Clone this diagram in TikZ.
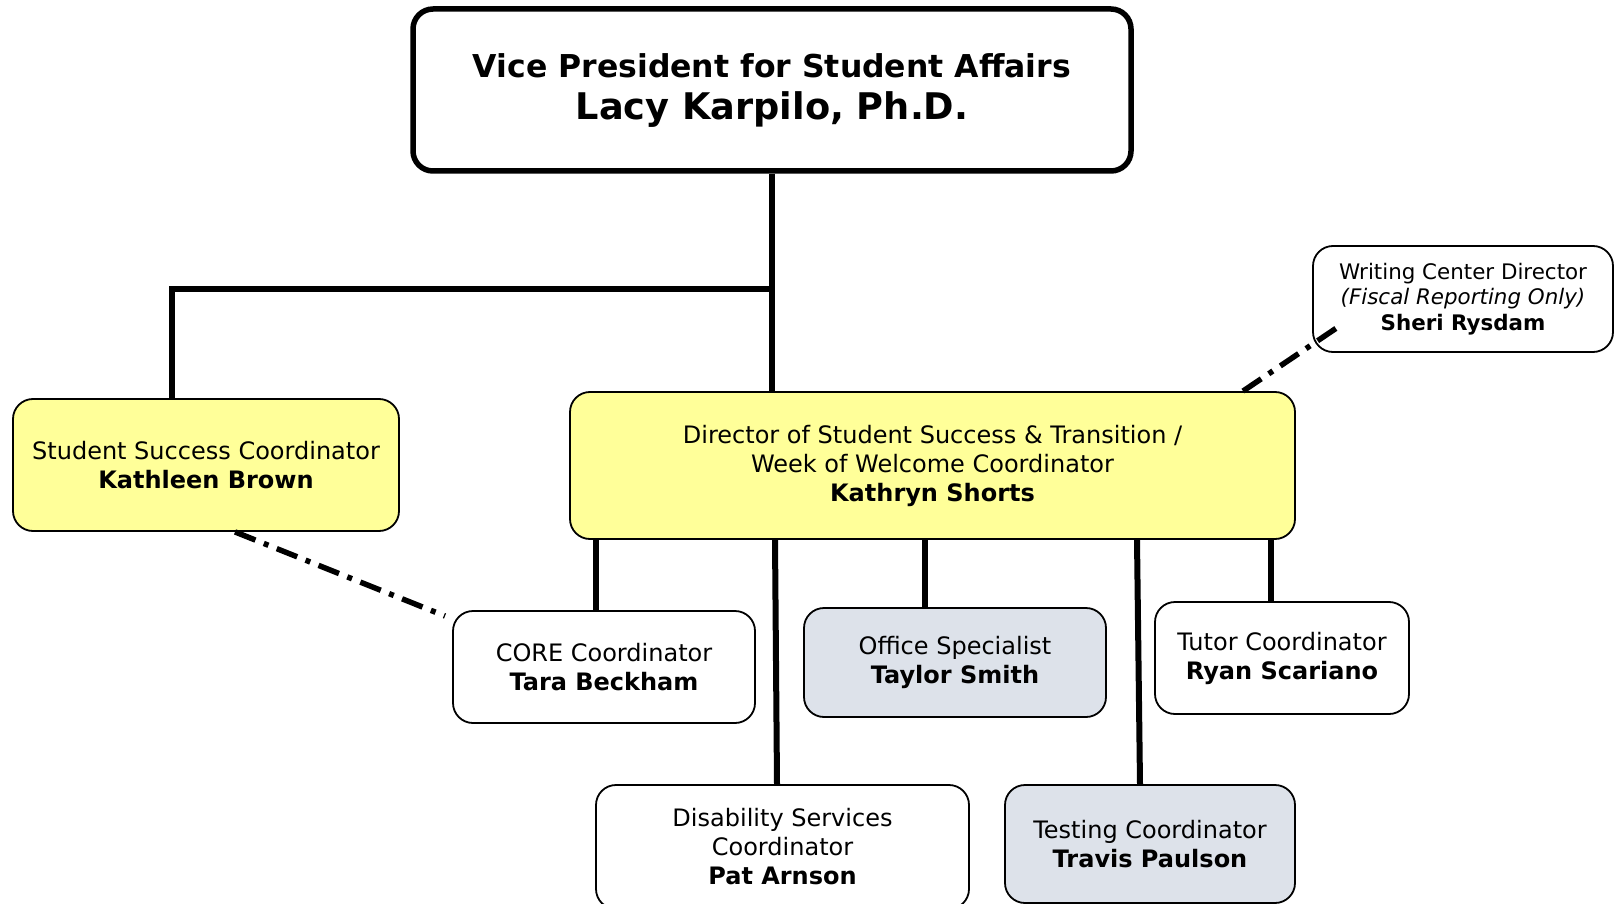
\documentclass[tikz,border=0pt]{standalone}
\usepackage{fontspec}
\setmainfont{DejaVu Sans}
\begin{document}
\begin{tikzpicture}[x=1pt,y=-1pt,
  box/.style={draw=black, line width=1.8pt, rounded corners=20pt, align=center, inner sep=0pt,
    font=\fontsize{24}{29}\selectfont},
  yellowbox/.style={box, fill=ssyellow},
  graybox/.style={box, fill=ssgray},
  conn/.style={line width=6pt},
  dotline/.style={line width=5.5pt, dash pattern=on 22pt off 9pt on 5pt off 9pt}
]
\definecolor{ssyellow}{RGB}{255,255,153}
\definecolor{ssgray}{RGB}{221,226,234}
\useasboundingbox (0,0) rectangle (1614,904);

\node[box, line width=5.5pt, minimum width=718pt, minimum height=162pt, fill=white,
  font=\fontsize{31.5}{42}\selectfont\bfseries] (vp) at (772,90)
  {Vice President for Student Affairs\\{\fontsize{36.7}{42}\selectfont Lacy Karpilo, Ph.D.}};

\node[yellowbox, minimum width=386pt, minimum height=132pt] (ss) at (206,465)
  {Student Success Coordinator\\\textbf{Kathleen Brown}};

\node[yellowbox, minimum width=725pt, minimum height=147pt] (dir) at (932.5,465.5)
  {Director of Student Success \& Transition /\\Week of Welcome Coordinator\\\textbf{Kathryn Shorts}};

\node[box, minimum width=300pt, minimum height=106pt, font=\fontsize{21.4}{25.5}\selectfont] (wc) at (1463,299)
  {Writing Center Director\\\textit{(Fiscal Reporting Only)}\\\textbf{Sheri Rysdam}};

\node[box, minimum width=302pt, minimum height=112pt] (core) at (604,667)
  {CORE Coordinator\\\textbf{Tara Beckham}};

\node[graybox, minimum width=302pt, minimum height=109pt] (office) at (955,662.5)
  {Office Specialist\\\textbf{Taylor Smith}};

\node[box, minimum width=254pt, minimum height=112pt] (tutor) at (1282,658)
  {Tutor Coordinator\\\textbf{Ryan Scariano}};

\node[box, minimum width=373pt, minimum height=124pt] (dis) at (782.5,847)
  {Disability Services\\Coordinator\\\textbf{Pat Arnson}};

\node[graybox, minimum width=290pt, minimum height=118pt] (test) at (1150,844)
  {Testing Coordinator\\\textbf{Travis Paulson}};

% solid connectors
\coordinate (j) at (772,289);
\draw[conn] (vp.south) -- (vp.south |- dir.north);
\draw[conn] (j) -| ([xshift=-34pt]ss.north);
\draw[conn] ([xshift=-336.5pt]dir.south) -- ([xshift=-336.5pt]dir.south |- core.north);
\draw[conn] ([xshift=-157.5pt]dir.south) -- ([xshift=-5.5pt]dis.north);
\draw[conn] ([xshift=-7.5pt]dir.south) -- ([xshift=-7.5pt]dir.south |- office.north);
\draw[conn] ([xshift=204.5pt]dir.south) -- ([xshift=-10pt]test.north);
\draw[conn] ([xshift=338.5pt]dir.south) -- ([xshift=338.5pt]dir.south |- tutor.north);

% dash-dot connectors
\coordinate (c1) at (445,616);
\draw[dotline] ([xshift=29pt]ss.south) -- (c1);
\coordinate (w1) at (1338,327);
\draw[dotline] ([xshift=310.5pt]dir.north) -- (w1);
\end{tikzpicture}
\end{document}
